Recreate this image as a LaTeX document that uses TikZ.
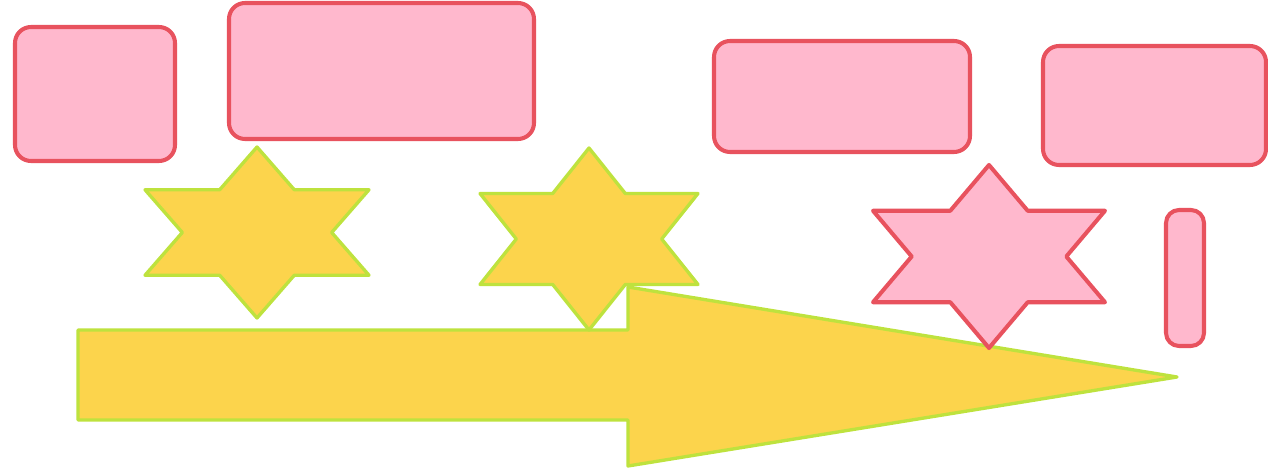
\documentclass[tikz,border=0pt]{standalone}
\usepackage{tikz}

\definecolor{blushfill}{RGB}{255,184,205}
\definecolor{blushline}{RGB}{232,82,94}
\definecolor{mustard}{RGB}{252,212,76}
\definecolor{limeline}{RGB}{190,226,62}

\tikzset{
  blush/.style={draw=blushline,fill=blushfill,line width=2.3pt,line join=round},
  sunny/.style={draw=limeline,fill=mustard,line width=1.9pt,line join=round}
}

\begin{document}
\begin{tikzpicture}[x=0.02cm,y=-0.02cm]
\useasboundingbox (0,0) rectangle (1268,469);
% arrow
\draw[sunny] (78,330)--(628,330)--(628,287)--(1177,377)--(628,466)--(628,420)--(78,420)--cycle;
% yellow stars
\draw[sunny] (257,147)--(294.3,189.75)--(369,189.75)--(331.7,232.5)--(369,275.25)--(294.3,275.25)--(257,318)--(219.7,275.25)--(145,275.25)--(182.3,232.5)--(145,189.75)--(219.7,189.75)--cycle;
\draw[sunny] (589,148)--(625.3,193.5)--(698,193.5)--(661.7,239)--(698,284.5)--(625.3,284.5)--(589,330)--(552.7,284.5)--(480,284.5)--(516.3,239)--(480,193.5)--(552.7,193.5)--cycle;
% pink star
\draw[blush] (989,165)--(1027.7,210.75)--(1105,210.75)--(1066.3,256.5)--(1105,302.25)--(1027.7,302.25)--(989,348)--(950.3,302.25)--(873,302.25)--(911.7,256.5)--(873,210.75)--(950.3,210.75)--cycle;
% boxes
\draw[blush,rounded corners=0.32cm] (15,27) rectangle (175,161);
\draw[blush,rounded corners=0.32cm] (229,3) rectangle (534,139);
\draw[blush,rounded corners=0.32cm] (714,41) rectangle (970,152);
\draw[blush,rounded corners=0.32cm] (1043,46) rectangle (1266,165);
\draw[blush,rounded corners=0.26cm] (1166,210) rectangle (1204,346);
\end{tikzpicture}
\end{document}
